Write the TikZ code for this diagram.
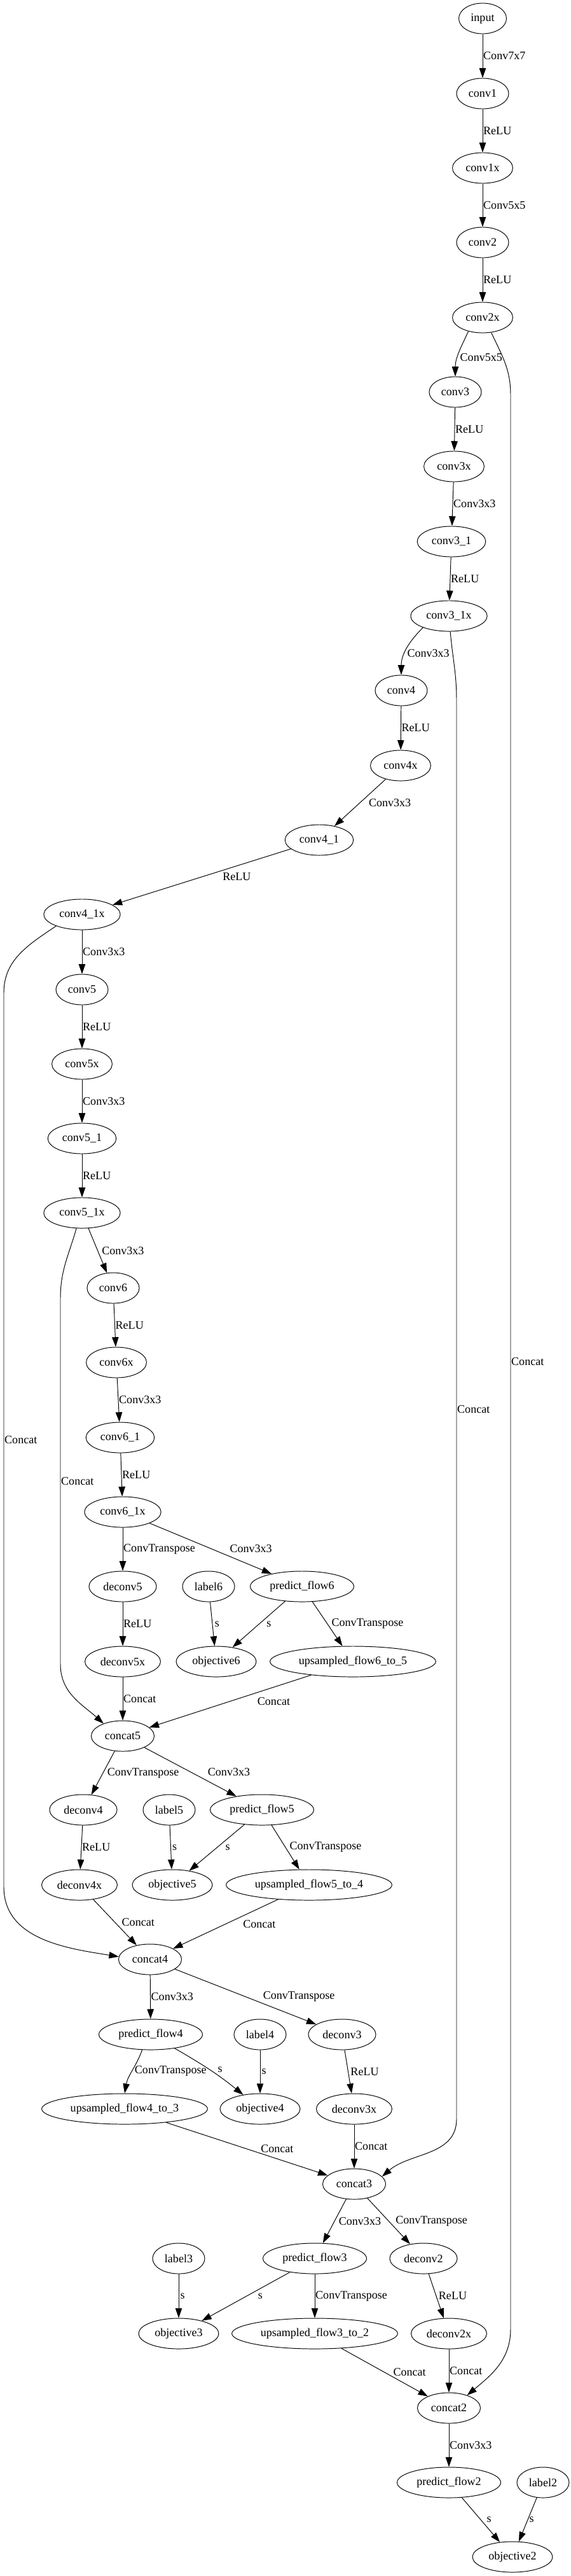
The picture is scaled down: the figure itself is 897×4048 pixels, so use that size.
\documentclass[tikz,border=0pt]{standalone}
\usepackage{fontspec}
\setmainfont{Liberation Serif}
\usetikzlibrary{shapes.geometric,arrows.meta}

\tikzset{
  blob/.style={draw, ellipse, line width=0.7pt, minimum width=54pt, minimum height=34.6pt, inner xsep=5pt, inner ysep=1pt, font=\fontsize{13}{15}\selectfont},
  flow/.style={line width=0.7pt, -{Triangle[length=11pt,width=7.5pt]}},
  lbl/.style={anchor=west, inner sep=0.5pt, font=\fontsize{13}{15}\selectfont},
}

\begin{document}
\begin{tikzpicture}[x=0.72pt,y=0.72pt,yscale=-1,xscale=1]
\useasboundingbox (0,0) rectangle (897,4048);
% Encoder nodes
\draw (759,29) node [blob] (input) {input};
\draw (759,147) node [blob] (conv1) {conv1};
\draw (759,264) node [blob] (conv1x) {conv1x};
\draw (759,381) node [blob] (conv2) {conv2};
\draw (759,499) node [blob] (conv2x) {conv2x};
\draw (716,616) node [blob] (conv3) {conv3};
\draw (714,733) node [blob] (conv3x) {conv3x};
\draw (710,851) node [blob] (conv3_1) {conv3\_1};
\draw (706,968) node [blob] (conv3_1x) {conv3\_1x};
\draw (631,1085) node [blob] (conv4) {conv4};
\draw (630,1203) node [blob] (conv4x) {conv4x};
\draw (502,1320) node [blob] (conv4_1) {conv4\_1};
\draw (129,1437) node [blob] (conv4_1x) {conv4\_1x};
\draw (129,1555) node [blob] (conv5) {conv5};
\draw (129,1672) node [blob] (conv5x) {conv5x};
\draw (129,1789) node [blob] (conv5_1) {conv5\_1};
\draw (129,1906) node [blob] (conv5_1x) {conv5\_1x};
\draw (178,2024) node [blob] (conv6) {conv6};
\draw (183,2141) node [blob] (conv6x) {conv6x};
\draw (189,2259) node [blob] (conv6_1) {conv6\_1};
\draw (193,2376) node [blob] (conv6_1x) {conv6\_1x};
% Decoder nodes
\draw (193,2493) node [blob] (deconv5) {deconv5};
\draw (328,2493) node [blob] (label6) {label6};
\draw (475,2493) node [blob] (predict_flow6) {predict\_flow6};
\draw (193,2611) node [blob] (deconv5x) {deconv5x};
\draw (340,2611) node [blob] (objective6) {objective6};
\draw (555,2611) node [blob] (upsampled_flow6_to_5) {upsampled\_flow6\_to\_5};
\draw (193,2728) node [blob] (concat5) {concat5};
\draw (131,2844) node [blob] (deconv4) {deconv4};
\draw (266,2844) node [blob] (label5) {label5};
\draw (412,2844) node [blob] (predict_flow5) {predict\_flow5};
\draw (125,2962) node [blob] (deconv4x) {deconv4x};
\draw (271,2962) node [blob] (objective5) {objective5};
\draw (486,2962) node [blob] (upsampled_flow5_to_4) {upsampled\_flow5\_to\_4};
\draw (236,3079) node [blob] (concat4) {concat4};
\draw (237,3197) node [blob] (predict_flow4) {predict\_flow4};
\draw (409,3197) node [blob] (label4) {label4};
\draw (538,3197) node [blob] (deconv3) {deconv3};
\draw (196,3314) node [blob] (upsampled_flow4_to_3) {upsampled\_flow4\_to\_3};
\draw (409,3314) node [blob] (objective4) {objective4};
\draw (557,3314) node [blob] (deconv3x) {deconv3x};
\draw (557,3432) node [blob] (concat3) {concat3};
\draw (281,3549) node [blob] (label3) {label3};
\draw (495,3549) node [blob] (predict_flow3) {predict\_flow3};
\draw (666,3549) node [blob] (deconv2) {deconv2};
\draw (281,3667) node [blob] (objective3) {objective3};
\draw (495,3667) node [blob] (upsampled_flow3_to_2) {upsampled\_flow3\_to\_2};
\draw (706,3667) node [blob] (deconv2x) {deconv2x};
\draw (706,3784) node [blob] (concat2) {concat2};
\draw (706,3901) node [blob] (predict_flow2) {predict\_flow2};
\draw (854,3901) node [blob] (label2) {label2};
\draw (806,4018) node [blob] (objective2) {objective2};
% Bends of the skip connections
\coordinate (skip2a) at (803,620);
\coordinate (skip2b) at (803,3660);
\coordinate (skip3a) at (718,1100);
\coordinate (skip3b) at (718,3330);
\coordinate (skip4a) at (6,1560);
\coordinate (skip4b) at (6,2965);
\coordinate (skip5a) at (95,2040);
\coordinate (skip5b) at (95,2615);
% Encoder edges (y is flipped, so bend angles are negated)
\draw [flow] (input) -- node [lbl] {Conv7x7} (conv1);
\draw [flow] (conv1) -- node [lbl] {ReLU} (conv1x);
\draw [flow] (conv1x) -- node [lbl] {Conv5x5} (conv2);
\draw [flow] (conv2) -- node [lbl] {ReLU} (conv2x);
\draw [flow] (conv2x.-136) to [out=115,in=-90] node [lbl, pos=0.6, xshift=2pt] {Conv5x5} (conv3.north);
\draw [flow] (conv3) -- node [lbl] {ReLU} (conv3x);
\draw [flow] (conv3x) -- node [lbl] {Conv3x3} (conv3_1);
\draw [flow] (conv3_1) -- node [lbl] {ReLU} (conv3_1x);
\draw [flow] (conv3_1x.-156) to [out=135,in=-90] node [lbl, pos=0.6, xshift=2pt] {Conv3x3} (conv4.north);
\draw [flow] (conv4) -- node [lbl] {ReLU} (conv4x);
\draw [flow] (conv4x) -- node [lbl, xshift=9pt] {Conv3x3} (conv4_1);
\draw [flow] (conv4_1) -- node [lbl, xshift=23pt] {ReLU} (conv4_1x);
\draw [flow] (conv4_1x) -- node [lbl] {Conv3x3} (conv5);
\draw [flow] (conv5) -- node [lbl] {ReLU} (conv5x);
\draw [flow] (conv5x) -- node [lbl] {Conv3x3} (conv5_1);
\draw [flow] (conv5_1) -- node [lbl] {ReLU} (conv5_1x);
\draw [flow] (conv5_1x) -- node [lbl, xshift=4pt] {Conv3x3} (conv6);
\draw [flow] (conv6) -- node [lbl] {ReLU} (conv6x);
\draw [flow] (conv6x) -- node [lbl] {Conv3x3} (conv6_1);
\draw [flow] (conv6_1) -- node [lbl] {ReLU} (conv6_1x);
% Skip connections
\draw [flow] (conv2x.-60) to [out=65,in=-90] (skip2a) -- node [lbl] {Concat} (skip2b) to [out=90,in=-40] (concat2.35);
\draw [flow] (conv3_1x.-85) to [out=85,in=-90] (skip3a) -- node [lbl] {Concat} (skip3b) to [out=90,in=-41] (concat3.15);
\draw [flow] (conv4_1x.-156) to [out=146,in=-90] (skip4a) -- node [lbl] {Concat} (skip4b) to [out=90,in=-171] (concat4.175);
\draw [flow] (conv5_1x.-110) to [out=106,in=-90] (skip5a) -- node [lbl] {Concat} (skip5b) to [out=90,in=-138] (concat5.147);
% Decoder edges
\draw [flow] (conv6_1x) -- node [lbl] {ConvTranspose} (deconv5);
\draw [flow] (conv6_1x) -- node [lbl, xshift=21pt] {Conv3x3} (predict_flow6);
\draw [flow] (deconv5) -- node [lbl] {ReLU} (deconv5x);
\draw [flow] (label6) -- node [lbl, xshift=2pt] {s} (objective6);
\draw [flow] (predict_flow6) -- node [lbl, xshift=8pt] {s} (objective6);
\draw [flow] (predict_flow6) -- node [lbl, xshift=4pt] {ConvTranspose} (upsampled_flow6_to_5);
\draw [flow] (deconv5x) -- node [lbl] {Concat} (concat5);
\draw [flow] (upsampled_flow6_to_5) -- node [lbl, xshift=30pt] {Concat} (concat5);
\draw [flow] (concat5) -- node [lbl, xshift=4pt] {ConvTranspose} (deconv4);
\draw [flow] (concat5) -- node [lbl, xshift=19pt] {Conv3x3} (predict_flow5);
\draw [flow] (deconv4) -- node [lbl] {ReLU} (deconv4x);
\draw [flow] (label5) -- node [lbl, xshift=1pt] {s} (objective5);
\draw [flow] (predict_flow5) -- node [lbl, xshift=9pt] {s} (objective5);
\draw [flow] (predict_flow5) -- node [lbl, xshift=4pt] {ConvTranspose} (upsampled_flow5_to_4);
\draw [flow] (deconv4x) -- node [lbl, xshift=7pt] {Concat} (concat4);
\draw [flow] (upsampled_flow5_to_4) -- node [lbl, xshift=19pt] {Concat} (concat4);
\draw [flow] (concat4) -- node [lbl] {Conv3x3} (predict_flow4);
\draw [flow] (concat4) -- node [lbl, xshift=19pt] {ConvTranspose} (deconv3);
\draw [flow] (predict_flow4.-119) to [out=110,in=-80] node [lbl, xshift=2pt] {ConvTranspose} (upsampled_flow4_to_3.north);
\draw [flow] (predict_flow4.-30) to [out=30,in=-141] node [lbl, xshift=8pt] {s} (objective4.140);
\draw [flow] (label4) -- node [lbl, xshift=1pt] {s} (objective4);
\draw [flow] (deconv3) -- node [lbl, xshift=2pt] {ReLU} (deconv3x);
\draw [flow] (upsampled_flow4_to_3) -- node [lbl, xshift=15pt] {Concat} (concat3);
\draw [flow] (deconv3x) -- node [lbl] {Concat} (concat3);
\draw [flow] (concat3) -- node [lbl, xshift=4pt] {Conv3x3} (predict_flow3);
\draw [flow] (concat3) -- node [lbl, xshift=7pt] {ConvTranspose} (deconv2);
\draw [flow] (label3) -- node [lbl, xshift=1pt] {s} (objective3);
\draw [flow] (predict_flow3) -- node [lbl, xshift=13pt] {s} (objective3);
\draw [flow] (predict_flow3) -- node [lbl] {ConvTranspose} (upsampled_flow3_to_2);
\draw [flow] (deconv2) -- node [lbl, xshift=2pt] {ReLU} (deconv2x);
\draw [flow] (upsampled_flow3_to_2) -- node [lbl, xshift=9pt] {Concat} (concat2);
\draw [flow] (deconv2x) -- node [lbl] {Concat} (concat2);
\draw [flow] (concat2) -- node [lbl] {Conv3x3} (predict_flow2);
\draw [flow] (predict_flow2) -- node [lbl, xshift=6pt] {s} (objective2);
\draw [flow] (label2) -- node [lbl, xshift=1pt] {s} (objective2);
\end{tikzpicture}
\end{document}
